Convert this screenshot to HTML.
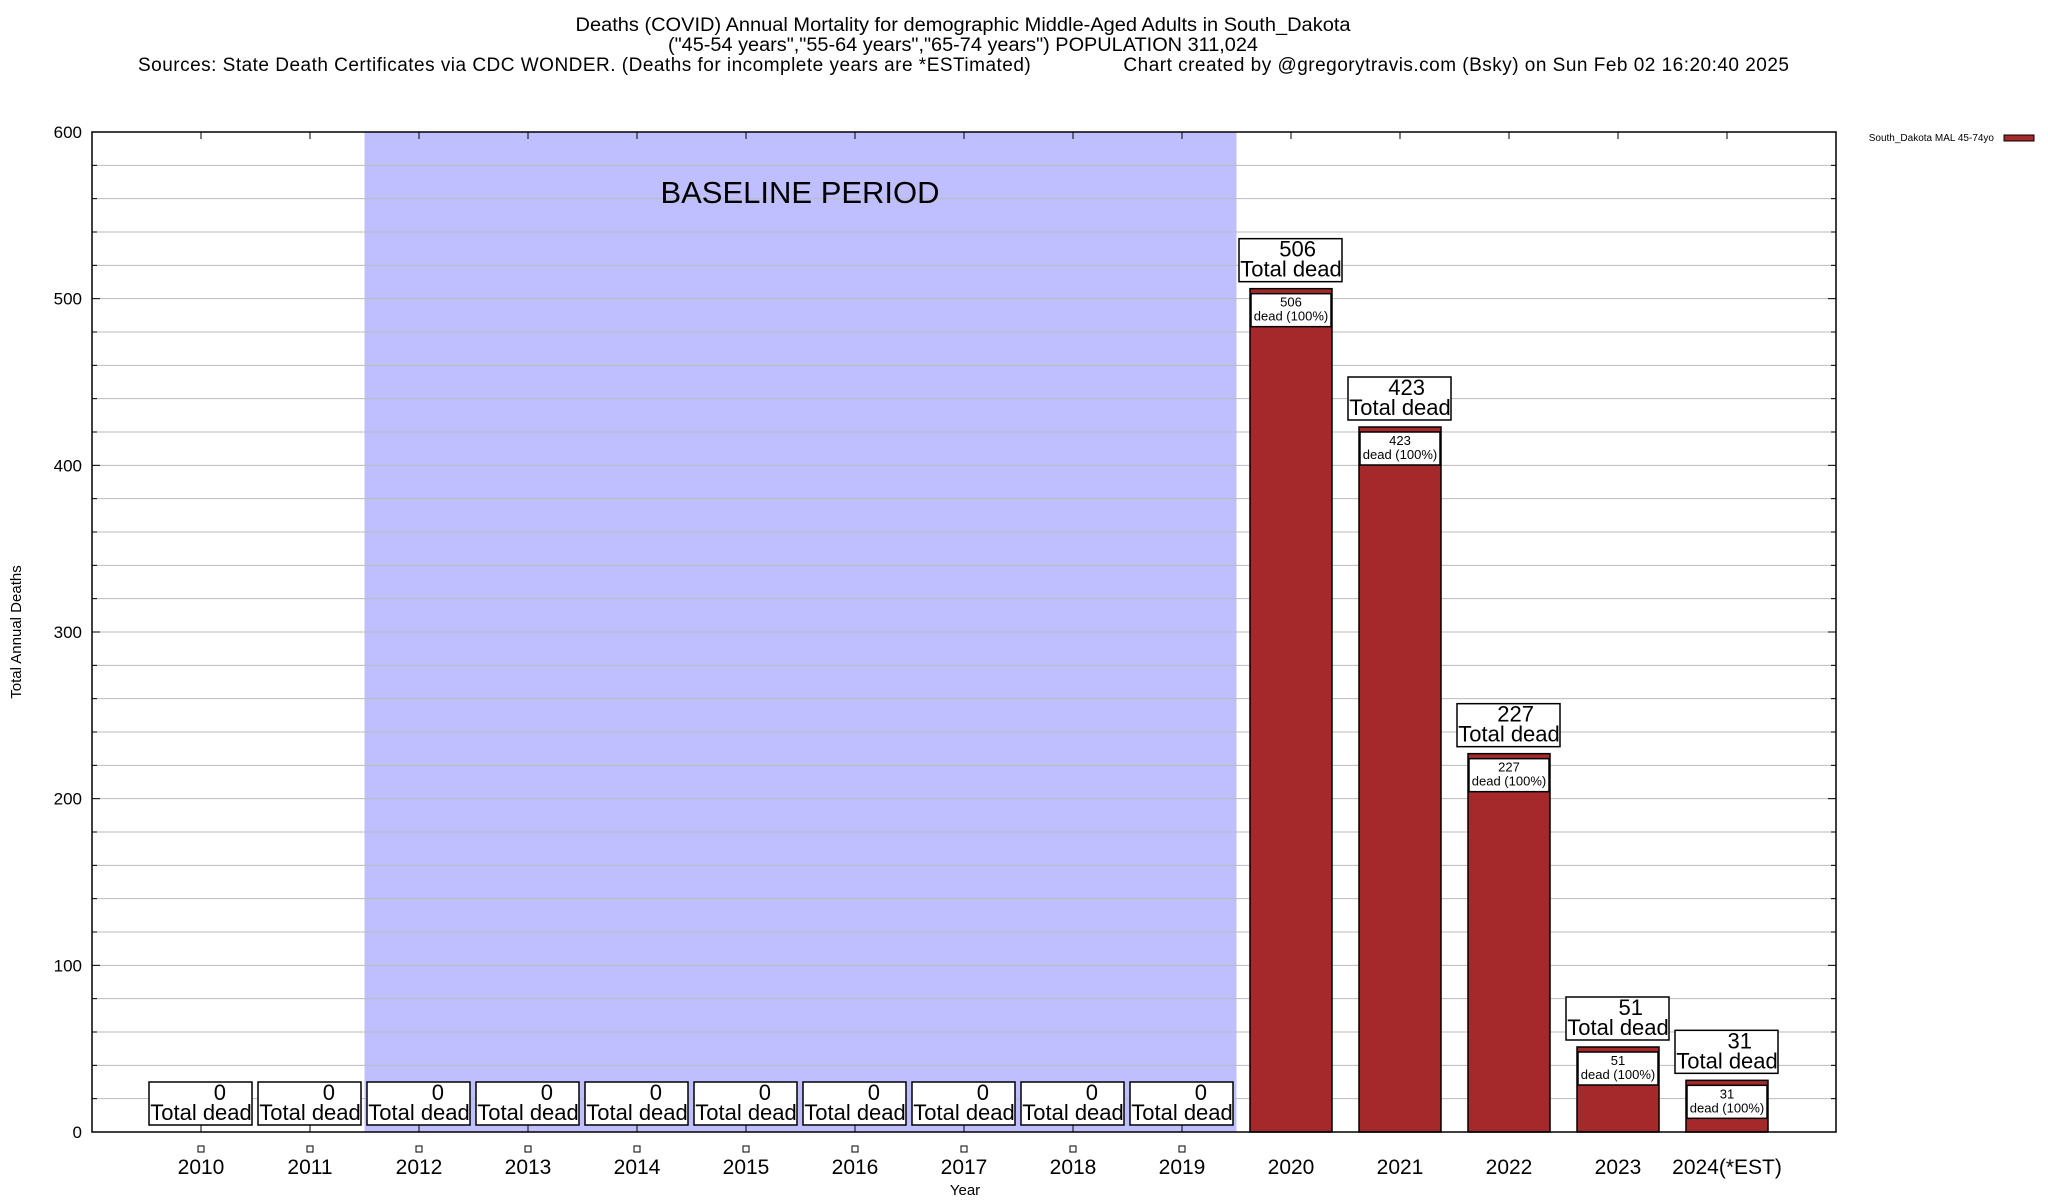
<!DOCTYPE html>
<html><head><meta charset="utf-8"><style>
body{margin:0;background:#fff}
svg{display:block;font-family:"Liberation Sans",sans-serif}
</style></head><body>
<svg id="chart" width="2048" height="1200" viewBox="0 0 2048 1200" xmlns="http://www.w3.org/2000/svg">
<text x="963" y="31" font-size="19" text-anchor="middle" textLength="775" lengthAdjust="spacingAndGlyphs">Deaths (COVID) Annual Mortality for demographic Middle-Aged Adults in South_Dakota</text>
<text x="963" y="51" font-size="19" text-anchor="middle" textLength="590" lengthAdjust="spacingAndGlyphs">("45-54 years","55-64 years","65-74 years") POPULATION 311,024</text>
<text x="138" y="71" font-size="19" textLength="1651" lengthAdjust="spacing" xml:space="preserve">Sources: State Death Certificates via CDC WONDER. (Deaths for incomplete years are *ESTimated)                Chart created by @gregorytravis.com (Bsky) on Sun Feb 02 16:20:40 2025</text>
<g id="plot"></g>
<text transform="translate(21,632) rotate(-90)" font-size="15" text-anchor="middle">Total Annual Deaths</text>
<text x="965" y="1195" font-size="15" text-anchor="middle">Year</text>
<text x="1994" y="141" font-size="10" text-anchor="end">South_Dakota MAL 45-74yo</text>
<rect x="2004" y="135" width="30" height="6" fill="#a5292a" stroke="#000" stroke-width="1"/>
</svg>
<script>
const categories=["2010","2011","2012","2013","2014","2015","2016","2017","2018","2019","2020","2021","2022","2023","2024(*EST)"];
const deaths=[0,0,0,0,0,0,0,0,0,0,506,423,227,51,31];
const yTicks=[0,100,200,300,400,500,600];
const baselineStart=2, baselineEnd=9;
const NS="http://www.w3.org/2000/svg";
const L=92,R=1836,T=132,B=1132,yMax=600;
const step=109, x0=201;
const xc=i=>x0+step*i;
const y=v=>B-(v/yMax)*(B-T);
const g=document.getElementById('plot');
function mk(tag,attrs,parent){const e=document.createElementNS(NS,tag);for(const k in attrs)e.setAttribute(k,attrs[k]);(parent||g).appendChild(e);return e;}
const sh=mk('rect',{x:xc(baselineStart)-step/2,y:T,width:step*(baselineEnd-baselineStart+1),height:B-T,fill:'#bfbfff'});


for(let v=0;v<=yMax;v+=20){
  const ln=mk('line',{x1:L,x2:R,y1:y(v),y2:y(v),stroke:'#bbb','stroke-width':1});
  
  
  const tk=mk('line',{x1:L,x2:L+(v%100===0?8:5),y1:y(v),y2:y(v),stroke:'#000'});
  
  
  const tk2=mk('line',{x1:R,x2:R-(v%100===0?8:5),y1:y(v),y2:y(v),stroke:'#000'});
  
  
}
yTicks.forEach(v=>{
  const t=mk('text',{x:L-10,y:y(v)+6,'font-size':17,'text-anchor':'end'});
  
  
  t.textContent=v;
});
const bt=mk('text',{x:800,y:203,'font-size':31,'text-anchor':'middle'});


bt.textContent='BASELINE PERIOD';
const bw=82;
categories.forEach((c,i)=>{
  const v=deaths[i],cx=xc(i),top=y(v);
  const tk=mk('line',{x1:cx,x2:cx,y1:B,y2:B-7,stroke:'#000'});
  
  
  const tk2=mk('line',{x1:cx,x2:cx,y1:T,y2:T+7,stroke:'#000'});
  
  
  if(v>0){
    const b=mk('rect',{x:cx-bw/2,y:top,width:bw,height:B-top,fill:'#a5292a',stroke:'#000','stroke-width':1.5});
    
    
    const ib=mk('rect',{x:cx-bw/2+1,y:top+5,width:bw-2,height:33,fill:'#fff',stroke:'#000','stroke-width':1.5});
    
    
    const t1=mk('text',{x:cx,y:top+18,'font-size':13,'text-anchor':'middle'});
    
    
    t1.textContent=v;
    const t2=mk('text',{x:cx,y:top+32,'font-size':13,'text-anchor':'middle'});
    
    
    t2.textContent='dead (100%)';
  } else {
    const m=mk('rect',{x:cx-3,y:B+14,width:6,height:6,fill:'#fff',stroke:'#000'});
    
    
  }
  const bb=top-7;
  const lb=mk('rect',{x:cx-52,y:bb-43,width:103,height:43,fill:'#fff',stroke:'#000','stroke-width':1.5});
  
  
  const l1=mk('text',{x:cx+25,y:bb-25,'font-size':22,'text-anchor':'end'});
  
  
  l1.textContent=v;
  const l2=mk('text',{x:cx,y:bb-5,'font-size':22,'text-anchor':'middle'});
  
  
  l2.textContent='Total dead';
  const xl=mk('text',{x:cx,y:B+42,'font-size':21,'text-anchor':'middle'});
  
  
  xl.textContent=c;
});
const fr=mk('rect',{x:L,y:T,width:R-L,height:B-T,fill:'none',stroke:'#000','stroke-width':1.5});


</script>
</body></html>
